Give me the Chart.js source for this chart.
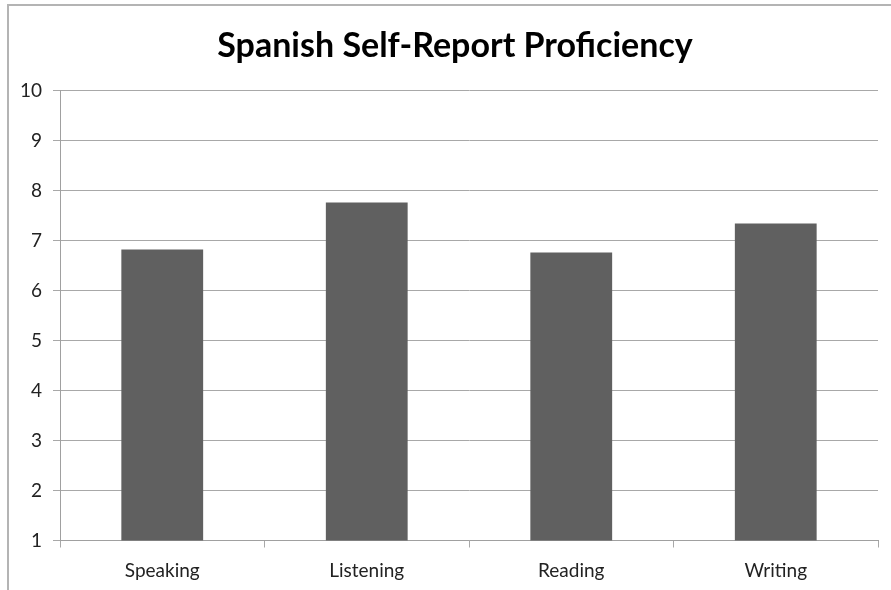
<!DOCTYPE html>
<html>
<head>
<meta charset="utf-8">
<script src="https://cdn.jsdelivr.net/npm/chart.js@4"></script>
<style>
    html, body { margin: 0; padding: 0; background: #fff; overflow: hidden; }
    #frame {
        position: absolute; left: 7px; top: 4px; width: 900px; height: 600px;
        border-left: 2px solid #b4b4b4; border-top: 2px solid #b4b4b4;
    }
    #wrap { position: absolute; left: 0; top: 0; width: 891px; height: 590px; }
</style>
</head>
<body>
<div id="frame"></div>
<div id="wrap"><canvas id="proficiencyChart" width="891" height="590"></canvas></div>
<script>
const categorias = ["Speaking", "Listening", "Reading", "Writing"];
const valores = [6.82, 7.76, 6.76, 7.34];
const tituloGrafica = "Spanish Self-Report Proficiency";
const ejeMin = 1;
const ejeMax = 10;

const ctx = document.getElementById("proficiencyChart").getContext("2d");

const myChart = new Chart(ctx, {
    type: "bar",
    data: {
        labels: categorias,
        datasets: [{
            label: "Proficiency",
            data: valores,
            backgroundColor: "#606060",
            borderWidth: 0,
            barPercentage: 0.4,
            categoryPercentage: 1.0
        }]
    },
    options: {
        responsive: false,
        animation: false,
        layout: {
            // el titulo queda centrado sobre el marco, como en Excel
            padding: { left: 32, right: 13, top: 0, bottom: 0 }
        },
        plugins: {
            legend: { display: false },
            tooltip: { enabled: false },
            title: {
                display: true,
                text: tituloGrafica,
                color: "#000",
                font: { family: "Lato", size: 34, weight: "bold" },
                padding: { top: 25.6, bottom: 24.1 }
            }
        },
        scales: {
            x: {
                afterFit: (scale) => { scale.height = 49.5; },
                grid: {
                    drawOnChartArea: false,
                    drawTicks: true,
                    tickLength: 7,
                    color: "#a8a8a8"
                },
                border: { color: "#a0a0a0" },
                ticks: {
                    color: "#222",
                    padding: 11.5,
                    font: { family: "Lato", size: 19 }
                }
            },
            y: {
                min: ejeMin,
                max: ejeMax,
                afterFit: (scale) => {
                    scale.width = 28;
                    // sin recorte, el "10" sale del margen
                    scale._computeLabelArea = () => undefined;
                },
                grid: {
                    color: "#a8a8a8",
                    tickLength: 7
                },
                border: { color: "#a0a0a0" },
                ticks: {
                    stepSize: 1,
                    color: "#222",
                    padding: 11,
                    font: { family: "Lato", size: 19 }
                }
            }
        }
    }
});
</script>
</body>
</html>
